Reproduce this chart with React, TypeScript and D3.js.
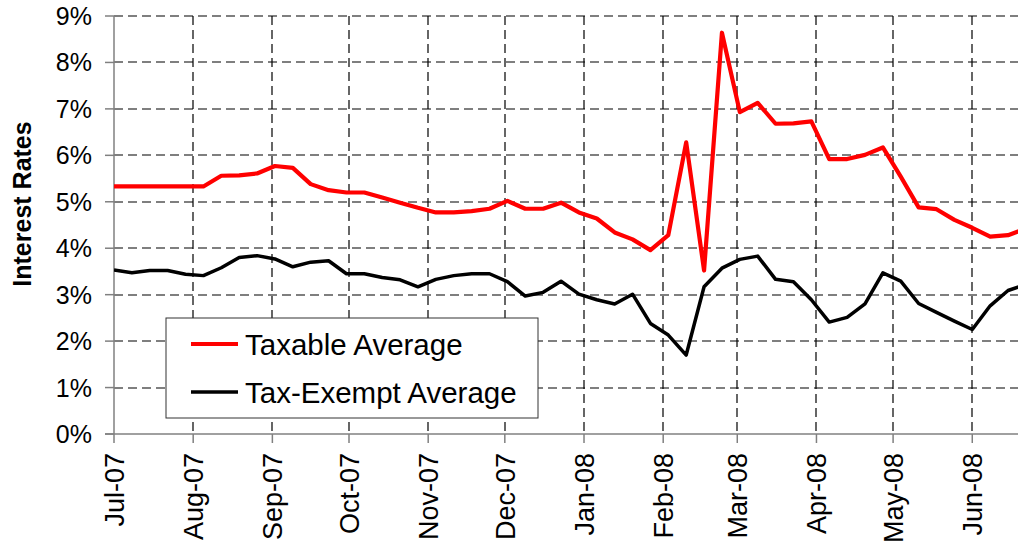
import React from "react";
import * as d3 from "d3";

const START = new Date(2007, 6, 1);
const END = new Date(START.getTime() + 353.9 * 864e5);

const seriesNames = ["Taxable Average", "Tax-Exempt Average"];

const taxable = [
  5.33, 5.33, 5.33, 5.33, 5.33, 5.33, 5.56, 5.57, 5.61, 5.77, 5.73, 5.38, 5.25,
  5.2, 5.2, 5.09, 4.98, 4.87, 4.77, 4.77, 4.8, 4.85, 5.02, 4.85, 4.85, 4.98,
  4.77, 4.64, 4.34, 4.19, 3.96, 4.28, 6.28, 3.52, 8.64, 6.93, 7.13, 6.68, 6.69,
  6.73, 5.92, 5.92, 6.01, 6.17, 5.54, 4.88, 4.84, 4.61, 4.44, 4.25, 4.28, 4.42,
];

const taxExempt = [
  3.53, 3.47, 3.52, 3.52, 3.44, 3.41, 3.58, 3.8, 3.84, 3.77, 3.6, 3.7, 3.73,
  3.45, 3.45, 3.37, 3.32, 3.17, 3.33, 3.41, 3.45, 3.45, 3.28, 2.97, 3.05, 3.29,
  3.01, 2.89, 2.8, 3.01, 2.38, 2.13, 1.7, 3.17, 3.57, 3.76, 3.83, 3.33, 3.28,
  2.89, 2.41, 2.51, 2.8, 3.47, 3.29, 2.81, 2.62, 2.43, 2.25, 2.76, 3.09, 3.22,
];

const dates = taxable.map((_, i) => d3.timeDay.offset(START, 7 * i));

const yTicks = [0, 1, 2, 3, 4, 5, 6, 7, 8, 9];

export default function App() {
  const W = 1018;
  const H = 544;
  const left = 114;
  const right = 1018;
  const top = 16;
  const bottom = 434;

  const x = d3.scaleTime().domain([START, END]).range([left, right]);
  const y = d3.scaleLinear().domain([0, 9]).range([bottom, top]);
  const monthTicks = d3.timeMonth.range(START, END);
  const fmt = d3.timeFormat("%b-%y");

  const line = d3
    .line<number>()
    .x((_, i) => x(dates[i]))
    .y((d) => y(d));

  const font = "'Liberation Sans', Arial, Helvetica, sans-serif";
  const dash = "9,5";

  return (
    <svg
      width={W}
      height={H}
      style={{ position: "absolute", left: 0, top: 0, background: "#fff" }}
      fontFamily={font}
    >
      <defs>
        <clipPath id="plot">
          <rect x={left} y={0} width={right - left} height={H} />
        </clipPath>
      </defs>
      <rect x={0} y={0} width={W} height={H} fill="#fff" />
      {/* horizontal grid */}
      {yTicks
        .filter((t) => t > 0)
        .map((t) => (
          <line
            key={"hg" + t}
            x1={left}
            x2={right}
            y1={Math.round(y(t))}
            y2={Math.round(y(t))}
            stroke="#000"
            strokeWidth={1.2}
            strokeDasharray={dash}
          />
        ))}
      {/* vertical grid */}
      {monthTicks.slice(1).map((d, i) => (
        <line
          key={"vg" + i}
          x1={Math.round(x(d))}
          x2={Math.round(x(d))}
          y1={top}
          y2={bottom}
          stroke="#000"
          strokeWidth={1.2}
          strokeDasharray={dash}
        />
      ))}
      {/* axes */}
      <line x1={left} x2={left} y1={top} y2={bottom} stroke="#808080" strokeWidth={1.5} />
      <line x1={left - 9} x2={right} y1={bottom} y2={bottom} stroke="#808080" strokeWidth={1.5} />
      {yTicks.map((t) => (
        <g key={"yt" + t}>
          <line
            x1={left - 9}
            x2={left}
            y1={y(t)}
            y2={y(t)}
            stroke="#808080"
            strokeWidth={1.5}
          />
          <text
            x={92}
            y={y(t)}
            dy="0.36em"
            textAnchor="end"
            fontSize={25}
            fill="#000"
          >
            {t + "%"}
          </text>
        </g>
      ))}
      {monthTicks.map((d, i) => (
        <g key={"xt" + i}>
          <line
            x1={x(d)}
            x2={x(d)}
            y1={bottom}
            y2={bottom + 9}
            stroke="#808080"
            strokeWidth={1.5}
          />
          <text
            transform={`translate(${x(d)},${bottom + 19}) rotate(-90)`}
            dy="0.36em"
            textAnchor="end"
            fontSize={27}
            fill="#000"
          >
            {fmt(d)}
          </text>
        </g>
      ))}
      {/* axis title */}
      <text
        transform={`translate(22,204) rotate(-90)`}
        dy="0.36em"
        textAnchor="middle"
        fontSize={25}
        fontWeight="bold"
        fill="#000"
      >
        Interest Rates
      </text>
      {/* lines */}
      <g clipPath="url(#plot)">
        <path
          d={line(taxExempt) || ""}
          fill="none"
          stroke="#000"
          strokeWidth={3.5}
          strokeLinejoin="round"
        />
        <path
          d={line(taxable) || ""}
          fill="none"
          stroke="#ff0000"
          strokeWidth={4.2}
          strokeLinejoin="round"
        />
      </g>
      {/* legend */}
      <g>
        <rect x={166} y={318} width={372} height={100} fill="#fff" stroke="#333" strokeWidth={1} />
        {seriesNames.map((name, i) => (
          <g key={name}>
            <line
              x1={191}
              x2={238}
              y1={344 + i * 48}
              y2={344 + i * 48}
              stroke={i === 0 ? "#ff0000" : "#000"}
              strokeWidth={i === 0 ? 4.2 : 3.5}
            />
            <text x={245} y={344 + i * 48} dy="0.36em" fontSize={29.5} fill="#000">
              {name}
            </text>
          </g>
        ))}
      </g>
    </svg>
  );
}
